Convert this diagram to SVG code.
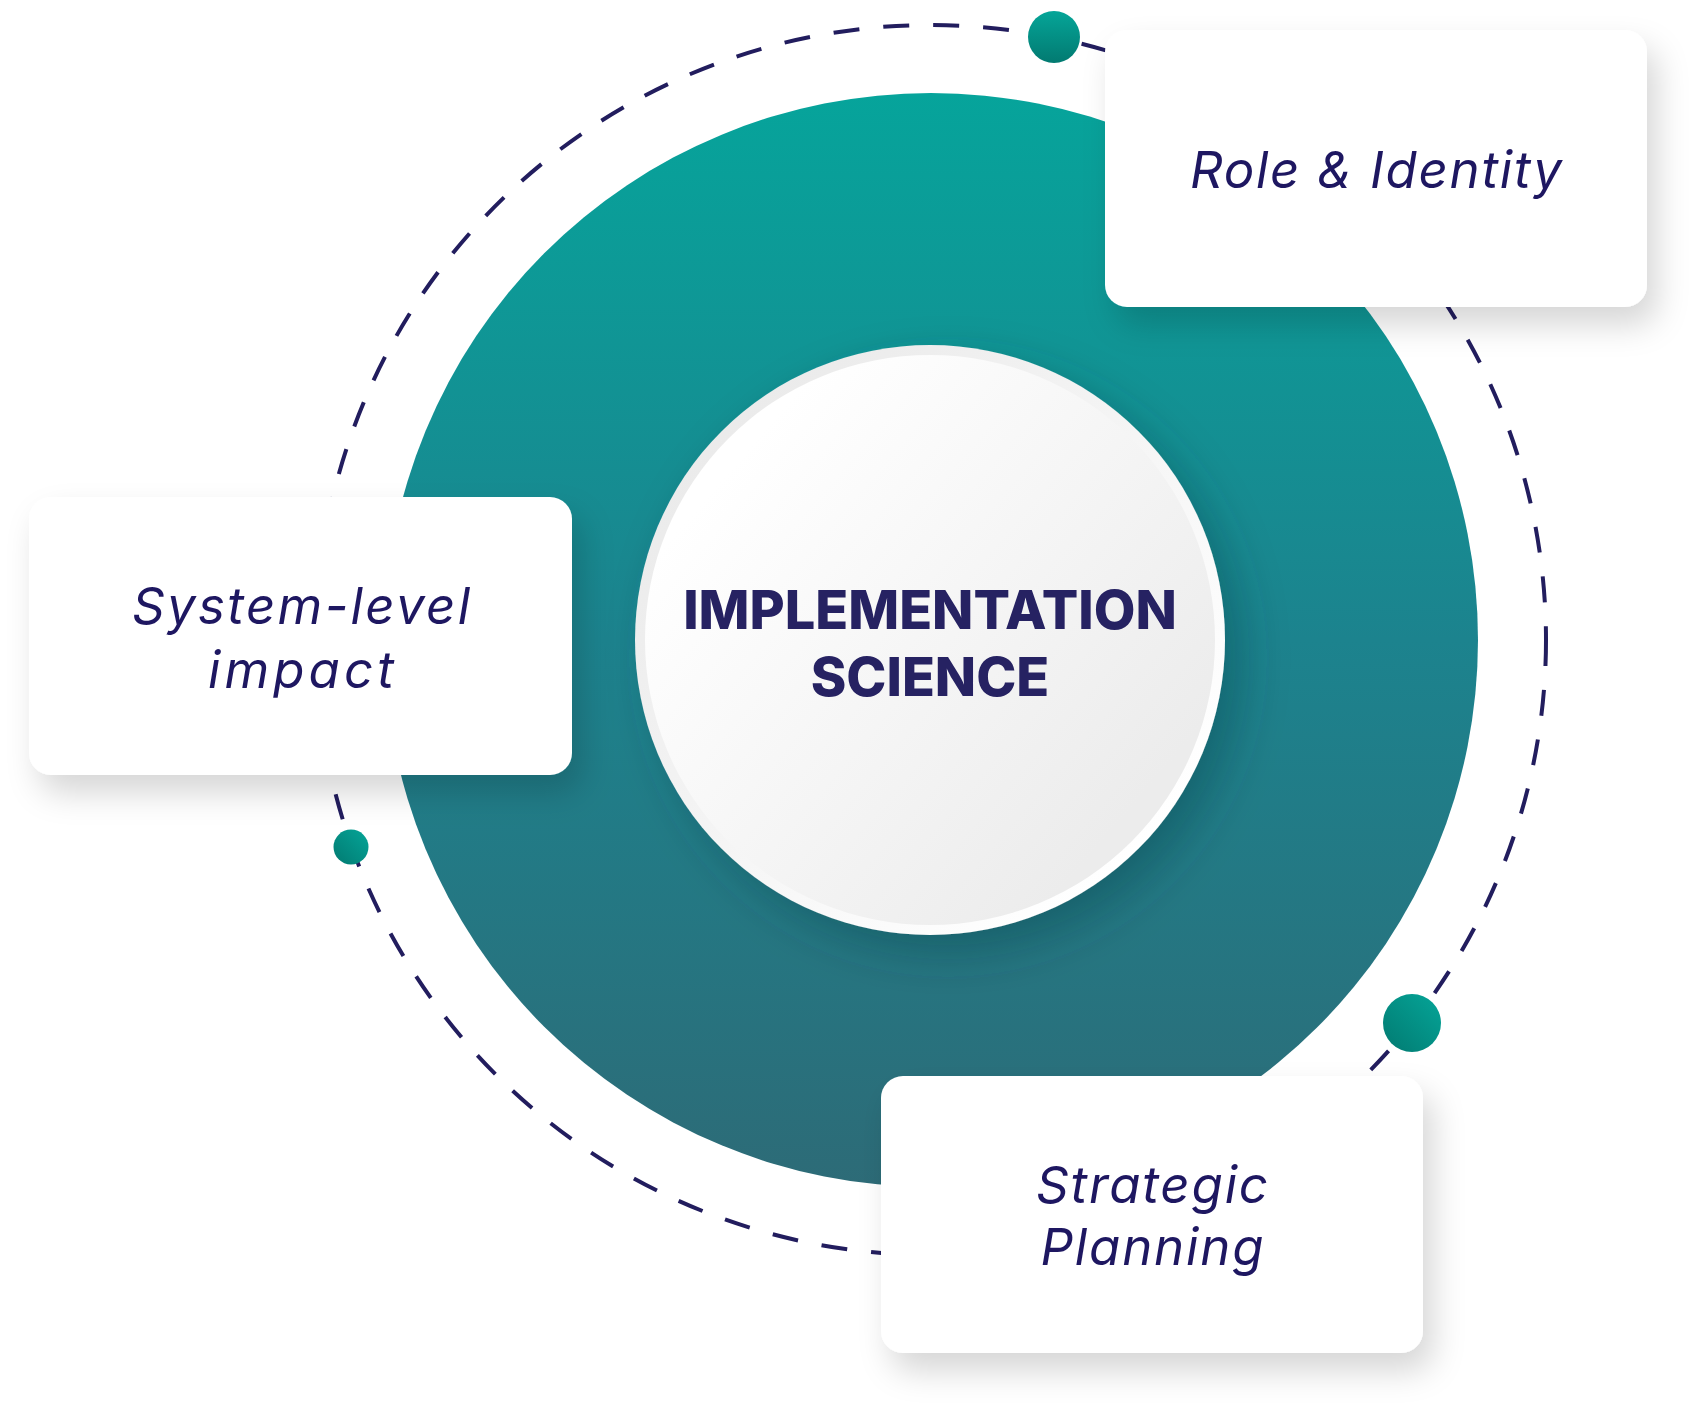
<svg xmlns="http://www.w3.org/2000/svg" width="1707" height="1413" viewBox="0 0 1707 1413">
<defs>
<linearGradient id="teal" x1="0" y1="0" x2="0" y2="1">
<stop offset="0" stop-color="#06a49b"/>
<stop offset="0.5" stop-color="#1c838e"/>
<stop offset="1" stop-color="#2d6b77"/>
</linearGradient>
<linearGradient id="ring" x1="0.15" y1="0.15" x2="0.85" y2="0.85">
<stop offset="0" stop-color="#ebebeb"/>
<stop offset="1" stop-color="#ffffff"/>
</linearGradient>
<linearGradient id="disk" x1="0.15" y1="0.2" x2="0.85" y2="0.8">
<stop offset="0" stop-color="#ffffff"/>
<stop offset="1" stop-color="#ececec"/>
</linearGradient>
<linearGradient id="dotV" x1="0" y1="0" x2="0" y2="1">
<stop offset="0" stop-color="#05a598"/>
<stop offset="1" stop-color="#027a71"/>
</linearGradient>
<linearGradient id="dotD" x1="1" y1="0" x2="0" y2="1">
<stop offset="0" stop-color="#05a598"/>
<stop offset="1" stop-color="#027a71"/>
</linearGradient>
<filter id="boxShadow" x="-20%" y="-20%" width="150%" height="160%">
<feDropShadow dx="10" dy="18" stdDeviation="16" flood-color="#000" flood-opacity="0.16"/>
</filter>
<filter id="circShadow" x="-20%" y="-20%" width="150%" height="150%">
<feDropShadow dx="18" dy="18" stdDeviation="22" flood-color="#0b3a40" flood-opacity="0.35"/>
</filter>
</defs>
<style>
.box{fill:#ffffff;filter:url(#boxShadow);}
.lbl{font-family:Inter,"Open Sans",sans-serif;font-style:italic;font-weight:400;font-size:51px;fill:#1e1761;text-anchor:middle;}
.core{font-family:Inter,"Noto Sans",sans-serif;font-weight:800;font-size:54px;fill:#262262;text-anchor:middle;}
.dash{fill:none;stroke:#221d5e;stroke-width:4;stroke-dasharray:26 24;}
</style>
<rect width="1707" height="1413" fill="#ffffff"/>
<g id="connectors">
<circle class="dash" cx="931" cy="640" r="615"/>
<circle cx="1054" cy="37" r="26" fill="url(#dotV)"/>
<circle cx="351" cy="847" r="17.5" fill="url(#dotD)"/>
<circle cx="1412" cy="1023" r="29" fill="url(#dotD)"/>
</g>
<g id="hub">
<circle cx="931" cy="640" r="547" fill="url(#teal)"/>
<g filter="url(#circShadow)">
<circle cx="930" cy="640" r="295" fill="url(#ring)"/>
</g>
<circle cx="930" cy="640" r="285" fill="url(#disk)"/>
<text class="core"><tspan x="930" y="629">IMPLEMENTATION</tspan><tspan x="930" y="696">SCIENCE</tspan></text>
</g>
<g id="role-identity">
<rect class="box" x="1105" y="30" width="542" height="277" rx="22"/>
<text class="lbl" x="1376" y="188" textLength="372" lengthAdjust="spacing">Role &amp; Identity</text>
</g>
<g id="system-level-impact">
<rect class="box" x="29" y="497" width="543" height="278" rx="22"/>
<text class="lbl"><tspan x="301" y="624" textLength="338" lengthAdjust="spacing">System-level</tspan><tspan x="301" y="688" textLength="186" lengthAdjust="spacing">impact</tspan></text>
</g>
<g id="strategic-planning">
<rect class="box" x="881" y="1076" width="542" height="277" rx="22"/>
<text class="lbl"><tspan x="1152" y="1203" textLength="232" lengthAdjust="spacing">Strategic</tspan><tspan x="1152" y="1265" textLength="223" lengthAdjust="spacing">Planning</tspan></text>
</g>
</svg>
